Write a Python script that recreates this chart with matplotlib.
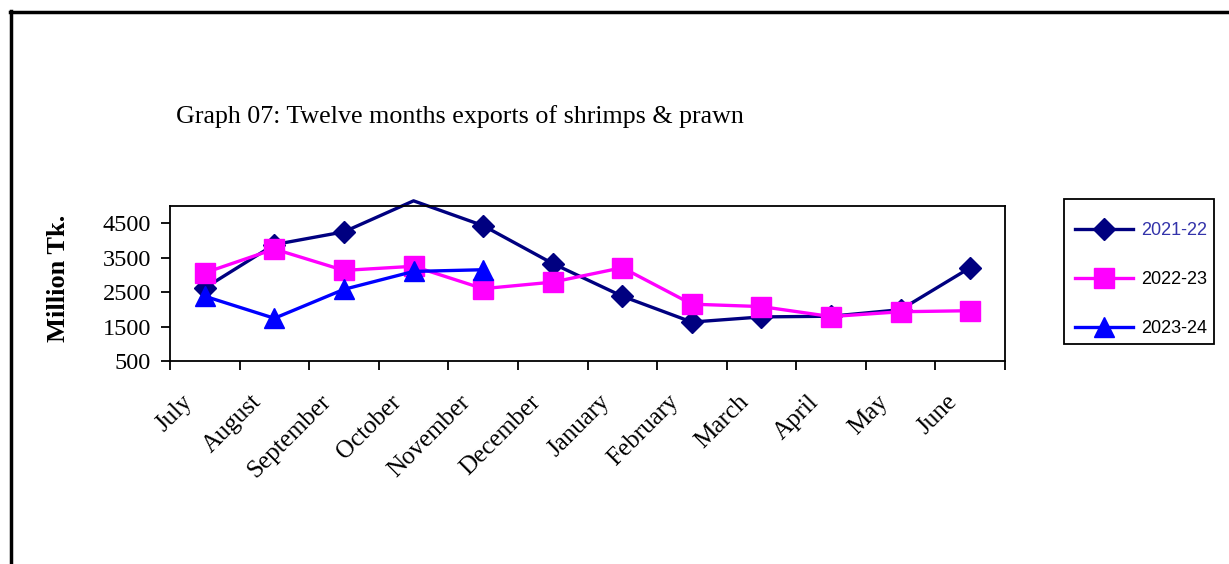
import matplotlib.pyplot as plt
from matplotlib.lines import Line2D
from matplotlib.patches import Rectangle
from matplotlib.transforms import ScaledTranslation

# ---------------------------------------------------------------------------
# Data (million Tk.)
# ---------------------------------------------------------------------------
months = ["July", "August", "September", "October", "November", "December",
          "January", "February", "March", "April", "May", "June"]
fy2122 = [2620, 3880, 4250, 5150, 4430, 3330, 2380, 1630, 1780, 1800, 1990, 3210]
fy2223 = [3060, 3750, 3130, 3250, 2600, 2790, 3210, 2150, 2080, 1790, 1930, 1960]
fy2324 = [2380, 1740, 2580, 3100, 3150]

W, H = 1229, 564
YMAX = 5000
fig = plt.figure(figsize=(W / 100, H / 100), dpi=100)
serif = "Liberation Serif"
sans = "Liberation Sans"

# outer frame (cut off at right and bottom)
fig.add_artist(Line2D([10 / W, 1.0], [1 - 12 / H, 1 - 12 / H], color="black", lw=2.5))
fig.add_artist(Line2D([11 / W, 11 / W], [0.0, 1 - 11 / H], color="black", lw=2.5))

ax = fig.add_axes([170 / W, 1 - 361 / H, 835 / W, 155 / H])
x = list(range(len(months)))

# markers beyond the axis maximum are not drawn, the line runs past the frame
shown = [i for i, v in enumerate(fy2122) if v <= YMAX]
ax.plot(x, fy2122, color="#000080", lw=2.4, marker="D", ms=11, markevery=shown,
        label="2021-22", clip_on=False)
ax.plot(x, fy2223, color="#FF00FF", lw=2.4, marker="s", ms=14, label="2022-23")
ax.plot(x[:len(fy2324)], fy2324, color="#0000FF", lw=2.4, marker="^", ms=14, label="2023-24")

ax.set_xlim(-0.5, len(months) - 0.5)
ax.set_ylim(500, YMAX)
ax.set_yticks([500, 1500, 2500, 3500, 4500])

# category boundaries carry the tick marks, centres carry the labels
ax.set_xticks([i - 0.5 for i in range(len(months) + 1)])
ax.set_xticklabels([])
ax.set_xticks(x, minor=True)
ax.set_xticklabels(months, minor=True, rotation=45, ha="right", va="center",
                   rotation_mode="anchor", fontfamily=serif, fontsize=18)
ax.tick_params(axis="x", which="minor", length=0, pad=27)
ax.tick_params(axis="x", which="major", length=6.5, width=1.3, direction="out")
ax.tick_params(axis="y", length=6.5, width=1.3, direction="out", labelsize=17.5, pad=7)
shift = ScaledTranslation(-16 / 100, 0, fig.dpi_scale_trans)
for lab in ax.get_xticklabels(minor=True):
    lab.set_transform(lab.get_transform() + shift)
for lab in ax.get_yticklabels():
    lab.set_fontfamily(serif)
for s in ax.spines.values():
    s.set_linewidth(1.3)

fig.text(59 / W, 1 - 278 / H, "Million Tk.", fontfamily=serif, fontsize=19,
         fontweight="bold", rotation=90, ha="center", va="center")

fig.text(176 / W, 1 - 117 / H, "Graph 07: Twelve months exports of shrimps & prawn",
         fontfamily=serif, fontsize=18.7, va="center", ha="left")

# legend: entries without frame, box drawn separately
leg = fig.legend(loc="upper left", bbox_to_anchor=(1075 / W, 1 - 222 / H),
                 prop={"family": sans, "size": 13}, frameon=False,
                 handlelength=3.2, labelspacing=1.77, borderpad=0,
                 handletextpad=0.45, borderaxespad=0)
leg.get_texts()[0].set_color("#3333AA")
fig.add_artist(Rectangle((1064 / W, 1 - 344 / H), 150 / W, 145 / H,
                         transform=fig.transFigure, fill=False,
                         edgecolor="black", lw=1.3))

fig.savefig("out.png", dpi=100)
